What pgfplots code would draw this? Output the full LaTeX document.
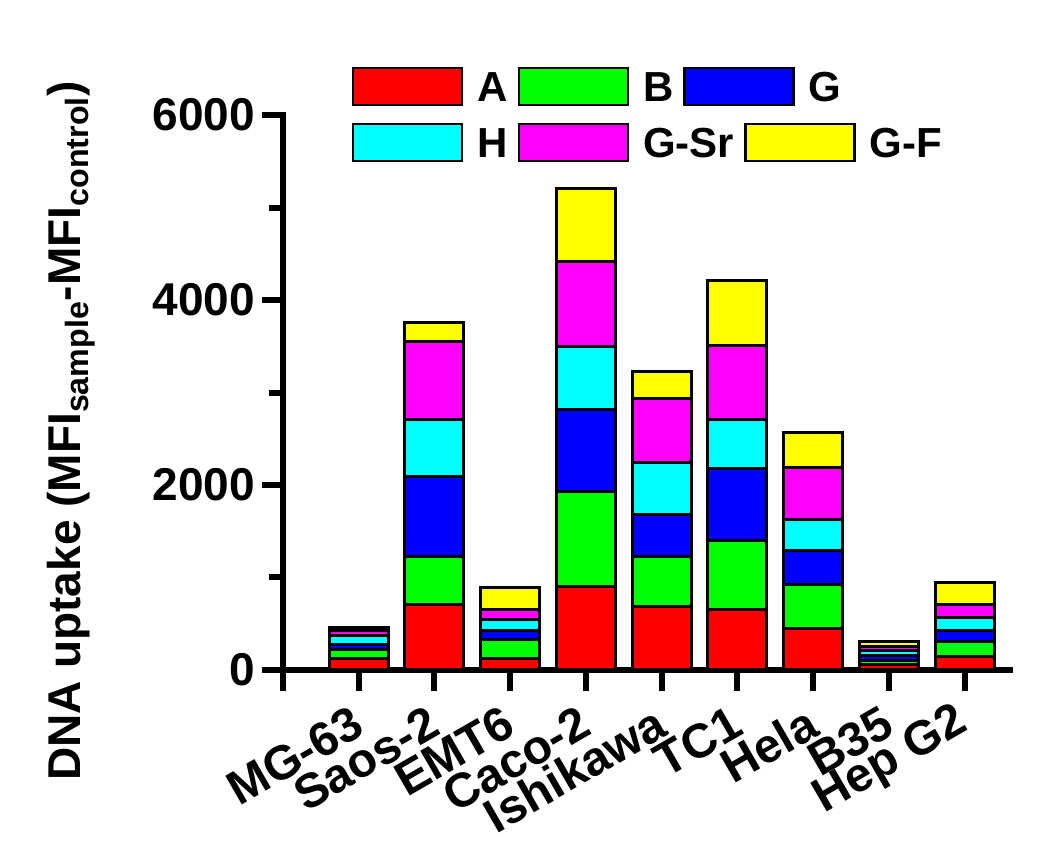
\documentclass[border=0pt]{standalone}
\usepackage{pgfplots}
\pgfplotsset{compat=1.18}
\usepackage{fontspec}
\setmainfont{Liberation Sans}

\definecolor{cA}{RGB}{255,0,0}
\definecolor{cB}{RGB}{0,255,0}
\definecolor{cG}{RGB}{0,0,255}
\definecolor{cH}{RGB}{0,255,255}
\definecolor{cGSr}{RGB}{255,0,255}
\definecolor{cGF}{RGB}{255,255,0}
\newcommand{\fs}{\fontsize{23}{27}\selectfont\bfseries}
\newcommand{\fx}{\fontsize{24}{28}\selectfont\bfseries}
\newcommand{\fl}{\fontsize{21}{25}\selectfont\bfseries}
\newcommand{\lt}[1]{\kern7pt #1\kern5pt}

\pgfplotsset{
  swatches/.style={
    legend image code/.code={\draw[##1, line width=1.2pt] (0pt,-9.25pt) rectangle (54.5pt,9.25pt);},
    legend style={draw=none, fill=none, inner sep=0pt, outer sep=0pt,
      anchor=north west, legend columns=-1, font=\fl,
      cells={anchor=west}, nodes={inner sep=0pt, text depth=0pt}},
  },
}

\begin{document}
\begin{tikzpicture}
\path (-141.5pt,-93pt) rectangle (383.5pt,335pt);
\begin{axis}[
  scale only axis, width=363.5pt, height=277.5pt,
  xmin=0, xmax=9.6, ymin=0, ymax=6000,
  enlargelimits=false, clip=false,
  ybar stacked, bar width=0.78,
  axis lines*=left,
  axis line style={line width=3pt, line cap=rect},
  tick style={line width=3pt, black},
  tick align=outside,
  major tick length=10.5pt, minor tick length=7pt,
  xtick={0,...,9},
  xticklabels={,MG-63,Saos-2,EMT6,Caco-2,Ishikawa,TC1,Hela,B35,Hep G2},
  ytick={0,2000,4000,6000},
  minor ytick={1000,3000,5000},
  scaled y ticks=false,
  yticklabel style={/pgf/number format/1000 sep={},
    /pgf/number format/assume math mode=true, font=\fs},
  xticklabel style={font=\fx, inner sep=0pt, yshift=-14pt, rotate=30, anchor=east},
  ylabel={DNA uptake (MFI\textsubscript{sample}-MFI\textsubscript{control})},
  every axis y label/.style={at={(axis description cs:0,0.4306)}, xshift=-101pt,
    rotate=90, anchor=base, font=\fs},
  swatches,
  legend style={at={(0.0949,1.0865)}},
]
% A, B, G, H, G-Sr, G-F stacked from the bottom
\addplot[fill=cA, draw=black, line width=1.5pt] coordinates
  {(1,119) (2,710) (3,126) (4,901) (5,685) (6,649) (7,451) (8,62) (9,144)};
\addplot[fill=cB, draw=black, line width=1.5pt] coordinates
  {(1,108) (2,515) (3,206) (4,1034) (5,540) (6,749) (7,475) (8,39) (9,162)};
\addplot[fill=cG, draw=black, line width=1.5pt] coordinates
  {(1,54) (2,872) (3,100) (4,876) (5,461) (6,775) (7,371) (8,56) (9,119)};
\addplot[fill=cH, draw=black, line width=1.5pt] coordinates
  {(1,90) (2,606) (3,119) (4,684) (5,559) (6,530) (7,325) (8,51) (9,141)};
\addplot[fill=cGSr, draw=black, line width=1.5pt] coordinates
  {(1,61) (2,846) (3,98) (4,923) (5,685) (6,803) (7,562) (8,44) (9,147)};
\addplot[fill=cGF, draw=black, line width=1.5pt] coordinates
  {(1,27) (2,205) (3,245) (4,789) (5,295) (6,703) (7,381) (8,54) (9,235)};
\legend{\lt{A},\lt{B},\lt{G}}
\end{axis}
% second legend row
\begin{axis}[
  scale only axis, width=363.5pt, height=277.5pt,
  hide axis, xmin=0, xmax=1, ymin=0, ymax=1,
  swatches,
  legend style={at={(0.0949,0.9856)}},
]
\addlegendimage{fill=cH, draw=black}
\addlegendimage{fill=cGSr, draw=black}
\addlegendimage{fill=cGF, draw=black}
\legend{\lt{H},\lt{G-Sr},\lt{G-F}}
\end{axis}
\end{tikzpicture}
\end{document}
